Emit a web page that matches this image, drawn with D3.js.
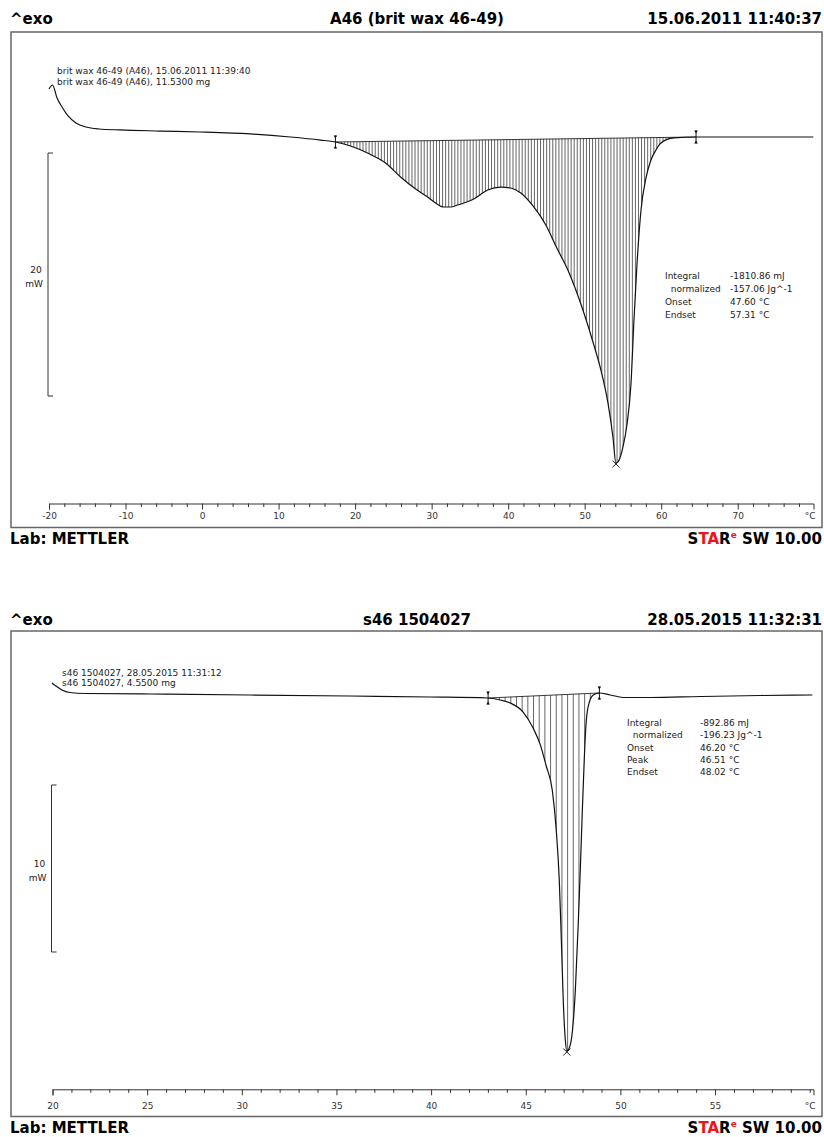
<!DOCTYPE html>
<html><head><meta charset="utf-8">
<script src="https://cdn.jsdelivr.net/npm/d3@7"></script>
<style>body{margin:0;background:#fff}text{font-family:"DejaVu Sans",sans-serif}</style>
</head><body><svg id="c" width="824" height="1137"></svg>
<script>
// ---------- Panel 1 data ----------
const p1Title = "A46 (brit wax 46-49)";
const p1Date = "15.06.2011 11:40:37";
const p1Notes = ["brit wax 46-49 (A46), 15.06.2011 11:39:40", "brit wax 46-49 (A46), 11.5300 mg"];
const p1Temp = [-20.0,-19.54,-18.95,-18.30,-17.51,-16.47,-15.16,-13.46,-10.71,-5.47,-0.24,6.31,11.54,15.47,17.43,19.40,21.62,23.98,25.94,27.91,29.48,30.52,31.57,32.49,33.40,34.58,35.50,37.33,39.03,40.34,41.65,43.35,44.92,46.36,47.80,49.90,51.20,52.12,53.04,53.69,54.08,54.61,55.00,55.52,56.04,56.44,56.83,57.36,58.01,58.66,59.32,59.97,61.67,64.55,70.44,79.87];
const p1Flow = [3.95,4.28,3.21,2.47,1.73,1.15,0.82,0.66,0.58,0.49,0.41,0.25,0.0,-0.25,-0.41,-0.74,-1.32,-2.14,-3.29,-4.28,-4.94,-5.43,-5.76,-5.76,-5.60,-5.35,-5.10,-4.36,-4.12,-4.20,-4.61,-5.76,-7.24,-9.14,-10.95,-14.49,-17.12,-19.18,-21.89,-24.69,-26.83,-26.42,-25.51,-23.70,-20.41,-15.06,-10.53,-6.01,-3.37,-1.89,-1.07,-0.49,-0.08,0.0,0.0,0.0];
const p1Ticks = [-20,-10,0,10,20,30,40,50,60,70];
const p1Minor = d3.range(-18, 80, 2);
const p1Limits = [17.43, 64.55];     // onset / endset of integration
const p1Peak = 54.08;
const p1InfoLabels = ["Integral", "  normalized", "Onset", "Endset"];
const p1InfoValues = ["-1810.86 mJ", "-157.06 Jg^-1", "47.60 °C", "57.31 °C"];
const p1Bar = [-1.32, 20];            // scale bar start (mW) and length (mW)

// ---------- Panel 2 data ----------
const p2Title = "s46 1504027";
const p2Date = "28.05.2015 11:32:31";
const p2Notes = ["s46 1504027, 28.05.2015 11:31:12", "s46 1504027, 4.5500 mg"];
const p2Temp = [19.97,20.18,20.50,20.92,21.72,25.15,30.44,35.72,39.95,43.01,43.65,44.18,44.86,45.39,45.77,46.08,46.40,46.61,46.77,46.88,46.98,47.09,47.17,47.30,47.46,47.62,47.78,47.88,47.99,48.10,48.20,48.36,48.57,48.89,49.47,50.26,51.58,54.22,57.39,60.14];
const p2Flow = [0.72,0.54,0.30,0.15,0.09,0.06,0.0,-0.06,-0.12,-0.18,-0.30,-0.48,-1.02,-1.98,-2.99,-4.25,-5.69,-8.08,-11.08,-14.67,-18.26,-20.66,-21.32,-21.14,-20.18,-17.66,-13.47,-10.48,-6.89,-3.59,-1.50,-0.42,0.0,0.12,0.0,-0.15,-0.15,-0.09,-0.03,0.0];
const p2Ticks = [20,25,30,35,40,45,50,55];
const p2Minor = d3.range(21, 61, 1);
const p2Limits = [43.01, 48.89];
const p2Peak = 47.17;
const p2InfoLabels = ["Integral", "  normalized", "Onset", "Peak", "Endset"];
const p2InfoValues = ["-892.86 mJ", "-196.23 Jg^-1", "46.20 °C", "46.51 °C", "48.02 °C"];
const p2Bar = [-5.39, 10];

const svg = d3.select("#c");

function panel(id, d, L) {
  const g = svg.append("g");
  const x = d3.scaleLinear().domain(L.xDomain).range(L.xRange);
  const y = d3.scaleLinear().domain([0, -d.bar[1]]).range([L.y0, L.y0 + L.barPx]);

  // header
  g.append("text").attr("x", 10).attr("y", L.headY).attr("font-weight", "bold").attr("font-size", 15).text("^exo");
  g.append("text").attr("x", 417).attr("y", L.headY).attr("text-anchor", "middle").attr("font-weight", "bold").attr("font-size", 15).text(d.title);
  g.append("text").attr("x", 822).attr("y", L.headY).attr("text-anchor", "end").attr("font-weight", "bold").attr("font-size", 15).text(d.date);

  // frame
  g.append("rect").attr("x", 11).attr("y", L.frame[0]).attr("width", 811).attr("height", L.frame[1] - L.frame[0])
    .attr("fill", "none").attr("stroke", "#666").attr("stroke-width", 1.5);

  // axes
  const ax = g.append("g").attr("transform", `translate(0,${L.axisY})`)
    .call(d3.axisBottom(x).tickValues(d.ticks).tickSize(6).tickSizeOuter(6).tickPadding(L.pad).tickFormat(v => String(v)));
  ax.selectAll("text").attr("font-size", 9).attr("fill", "#333").style("font-family", "DejaVu Sans");
  ax.selectAll("path,line").attr("stroke", "#333");
  const mx = g.append("g").attr("transform", `translate(0,${L.axisY})`)
    .call(d3.axisBottom(x).tickValues(d.minor.filter(v => !d.ticks.includes(v) && v < L.xDomain[1])).tickSize(3.5).tickFormat(""));
  mx.select(".domain").remove();
  mx.selectAll("line").attr("stroke", "#333");
  g.append("text").attr("x", x(L.xDomain[1]) + 2).attr("y", L.axisY + 6 + L.pad + 6.4).attr("text-anchor", "end")
    .attr("font-size", 9).attr("fill", "#333").text("°C");

  // curve
  const pts = d.temp.map((t, i) => [t, d.flow[i]]);
  const line = d3.line().x(p => x(p[0])).y(p => y(p[1])).curve(d3.curveMonotoneX);
  const i0 = d.temp.indexOf(d.limits[0]), i1 = d.temp.indexOf(d.limits[1]);
  const seg = pts.slice(i0, i1 + 1);

  g.append("clipPath").attr("id", "clip" + id).append("path").attr("d", line(seg) + "Z");
  const lo = d3.min(seg, p => p[1]) - 1, hi = d3.max(seg, p => p[1]) + 1;
  g.append("g").attr("clip-path", `url(#clip${id})`).selectAll("line")
    .data(d3.range(d.limits[0] + L.step, d.limits[1], L.step)).join("line")
    .attr("x1", t => x(t)).attr("x2", t => x(t)).attr("y1", y(hi)).attr("y2", y(lo))
    .attr("stroke", "#333").attr("stroke-width", 0.75);

  // integration baseline
  g.append("line").attr("x1", x(seg[0][0])).attr("y1", y(seg[0][1]))
    .attr("x2", x(seg[seg.length - 1][0])).attr("y2", y(seg[seg.length - 1][1]))
    .attr("stroke", "#222").attr("stroke-width", 0.9);

  g.append("path").attr("d", line(pts)).attr("fill", "none").attr("stroke", "#111").attr("stroke-width", 1.2);

  // limit markers
  [seg[0], seg[seg.length - 1]].forEach(p => {
    const mg = g.append("g").attr("transform", `translate(${x(p[0])},${y(p[1])})`);
    mg.append("path").attr("d", "M0,-6.5V6.5").attr("stroke", "#111").attr("stroke-width", 1);
    mg.append("path").attr("d", "M-1.8,-6.5H1.8L0,-3.5Z M-1.8,6.5H1.8L0,3.5Z").attr("fill", "#111");
  });

  // peak cross
  const pk = pts.find(p => p[0] === d.peak);
  g.append("path").attr("transform", `translate(${x(pk[0])},${y(pk[1]) + 1})`)
    .attr("d", "M-3.5,-3.5L3.5,3.5M-3.5,3.5L3.5,-3.5").attr("stroke", "#222").attr("stroke-width", 1);

  // scale bar
  const bx = x(L.xDomain[0]) - 1;
  const yb0 = y(d.bar[0]), yb1 = y(d.bar[0] - d.bar[1]);
  g.append("path").attr("d", `M${bx + 5},${yb0}H${bx}V${yb1}H${bx + 5}`).attr("fill", "none").attr("stroke", "#333").attr("stroke-width", 1);
  const ym = (yb0 + yb1) / 2;
  g.append("text").attr("x", bx - 12).attr("y", ym - 2).attr("text-anchor", "middle").attr("font-size", 9).attr("fill", "#222").text(d.bar[1]);
  g.append("text").attr("x", bx - 14).attr("y", ym + 12).attr("text-anchor", "middle").attr("font-size", 9).attr("fill", "#222").text("mW");

  // notes
  d.notes.forEach((s, i) => g.append("text").attr("x", L.noteX).attr("y", L.noteY + i * 10.5)
    .attr("font-size", 9).attr("fill", "#222").text(s));

  // info box
  d.infoLabels.forEach((s, i) => {
    g.append("text").attr("x", L.info[0]).attr("y", L.info[2] + i * L.info[3]).attr("font-size", 9).attr("fill", "#222")
      .attr("xml:space", "preserve").style("white-space", "pre").text(s);
    g.append("text").attr("x", L.info[1]).attr("y", L.info[2] + i * L.info[3]).attr("font-size", 9).attr("fill", "#222").text(d.infoValues[i]);
  });

  // footer
  g.append("text").attr("x", 10).attr("y", L.footY).attr("font-weight", "bold").attr("font-size", 15).text("Lab: METTLER");
  const st = g.append("text").attr("x", 822).attr("y", L.footY).attr("text-anchor", "end").attr("font-weight", "bold").attr("font-size", 15);
  st.append("tspan").text("S");
  st.append("tspan").attr("fill", "#e8161b").text("TA");
  st.append("tspan").text("R");
  st.append("tspan").attr("fill", "#e8161b").attr("font-size", 9).attr("dy", -6).text("e");
  st.append("tspan").attr("dy", 6).text(" SW 10.00");
}

panel(1, {title: p1Title, date: p1Date, notes: p1Notes, temp: p1Temp, flow: p1Flow, ticks: p1Ticks, minor: p1Minor,
  limits: p1Limits, peak: p1Peak, infoLabels: p1InfoLabels, infoValues: p1InfoValues, bar: p1Bar},
  {xDomain: [-20, 79.9], xRange: [49, 813.5], y0: 137, barPx: 243, headY: 24, frame: [32, 527.5], axisY: 503.5, pad: 3,
   step: 0.4, noteX: 57, noteY: 74, info: [665, 730, 278.5, 13], footY: 544});

panel(2, {title: p2Title, date: p2Date, notes: p2Notes, temp: p2Temp, flow: p2Flow, ticks: p2Ticks, minor: p2Minor,
  limits: p2Limits, peak: p2Peak, infoLabels: p2InfoLabels, infoValues: p2InfoValues, bar: p2Bar},
  {xDomain: [20, 60.2], xRange: [52.5, 813.5], y0: 695, barPx: 167, headY: 625, frame: [631, 1116.5], axisY: 1089.3, pad: 7,
   step: 0.3, noteX: 62, noteY: 675.5, info: [627, 700, 726, 12.3], footY: 1132.5});
</script></body></html>
